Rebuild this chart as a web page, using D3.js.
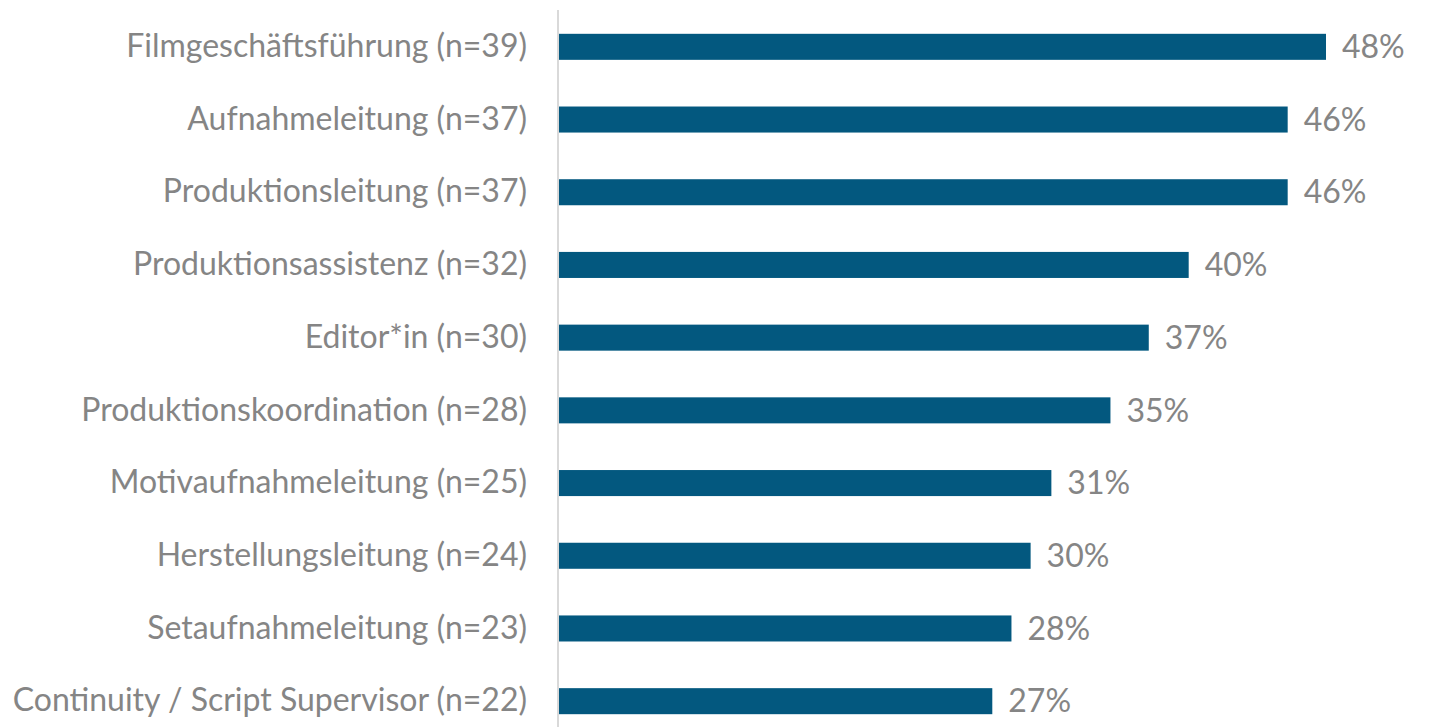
<!DOCTYPE html>
<html>
<head>
<meta charset="utf-8">
<script src="https://cdn.jsdelivr.net/npm/d3@7"></script>
<style>
  body { margin: 0; background: #fff; }
  svg text { font-family: Lato, "Open Sans", sans-serif; }
</style>
</head>
<body>
<div id="chart"></div>
<script>
// categories and shares (percent)
let categories = [
    "Filmgeschäftsführung (n=39)",
    "Aufnahmeleitung (n=37)",
    "Produktionsleitung (n=37)",
    "Produktionsassistenz (n=32)",
    "Editor*in (n=30)",
    "Produktionskoordination (n=28)",
    "Motivaufnahmeleitung (n=25)",
    "Herstellungsleitung (n=24)",
    "Setaufnahmeleitung (n=23)",
    "Continuity / Script Supervisor (n=22)"
];
let values = [48.1, 45.7, 45.7, 39.5, 37.0, 34.6, 30.9, 29.6, 28.4, 27.2];
let valueLabels = ["48%", "46%", "46%", "40%", "37%", "35%", "31%", "30%", "28%", "27%"];

let width = 1432, height = 727;
let margin = {top: 12, bottom: 736, left: 558};

let svg = d3.select("#chart").append("svg")
            .attr("width", width)
            .attr("height", height);

let xScale = d3.scaleLinear()
               .domain([0, 48.1])
               .range([margin.left, margin.left + 768]);

let yScale = d3.scaleBand()
               .domain(categories)
               .range([margin.top, margin.bottom])
               .paddingInner(0.642)
               .paddingOuter(0.3);

let data = categories.map((c, i) => ({cat: c, val: values[i], lab: valueLabels[i]}));

// bars
svg.selectAll("rect.bar")
   .data(data)
   .enter()
   .append("rect")
   .attr("class", "bar")
   .attr("x", xScale(0) + 1)
   .attr("y", d => yScale(d.cat))
   .attr("width", d => xScale(d.val) - xScale(0) - 1)
   .attr("height", yScale.bandwidth())
   .attr("fill", "#03587f");

// category labels
let yAxis = d3.axisLeft(yScale).tickSize(0).tickPadding(31);
let axisG = svg.append("g")
               .attr("transform", `translate(${xScale(0)},0)`)
               .call(yAxis);
axisG.select(".domain").remove();
axisG.selectAll("text")
     .attr("fill", "#858585")
     .style("font-size", "32px");

// axis line
svg.append("line")
   .attr("x1", xScale(0)).attr("x2", xScale(0))
   .attr("y1", 10).attr("y2", height)
   .attr("stroke", "#d9d9d9")
   .attr("stroke-width", 2);

// value labels
svg.selectAll("text.val")
   .data(data)
   .enter()
   .append("text")
   .attr("class", "val")
   .attr("x", d => xScale(d.val) + 16)
   .attr("y", d => yScale(d.cat) + yScale.bandwidth() / 2)
   .attr("dy", "0.35em")
   .attr("fill", "#858585")
   .style("font-size", "32px")
   .text(d => d.lab);
</script>
</body>
</html>
